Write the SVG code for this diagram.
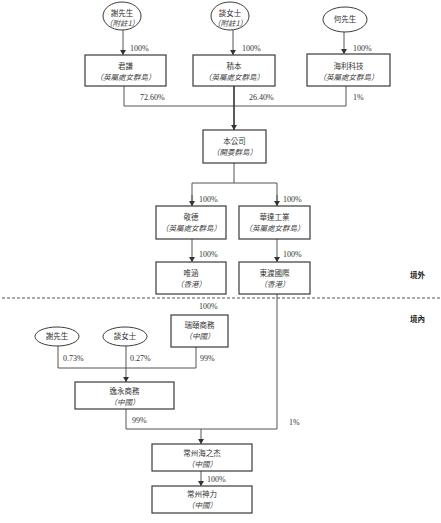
<svg xmlns="http://www.w3.org/2000/svg" width="441" height="523" viewBox="0 0 441 523">
<defs>
<marker id="arr" markerUnits="userSpaceOnUse" markerWidth="6" markerHeight="6" refX="5" refY="3" orient="auto">
<path d="M0,0 L5,3 L0,6 Z" fill="#333"/>
</marker>
<style>
.box{fill:#fff;stroke:#3a3a3a;stroke-width:1.2}
.ell{fill:#fff;stroke:#3a3a3a;stroke-width:1}
.ln{fill:none;stroke:#555;stroke-width:1}
.lnb{fill:none;stroke:#333;stroke-width:1.6}
.cn{font-family:"Noto Sans CJK TC","Noto Sans CJK SC",sans-serif;font-size:7.5px;fill:#333;text-anchor:middle}
.it{font-family:"Noto Sans CJK TC","Noto Sans CJK SC",sans-serif;font-size:7.5px;fill:#444;font-style:italic;text-anchor:middle}
.pc{font-family:"Liberation Serif",serif;font-size:8px;fill:#333}
.bd{font-family:"Noto Sans CJK TC","Noto Sans CJK SC",sans-serif;font-size:7.5px;fill:#222;font-weight:bold}
.dash{stroke:#555;stroke-width:1;stroke-dasharray:3,2}
</style>
</defs>
<rect width="441" height="523" fill="#fff"/>

<g id="connectors">
<line class="ln" x1="123" y1="30" x2="123" y2="55" marker-end="url(#arr)"/>
<line class="ln" x1="233" y1="30" x2="233" y2="55" marker-end="url(#arr)"/>
<line class="ln" x1="344" y1="32" x2="344" y2="54" marker-end="url(#arr)"/>
<polyline class="ln" points="124,86 124,106 346,106 346,86"/>
<line class="lnb" x1="234" y1="86" x2="234" y2="130" marker-end="url(#arr)"/>
<line class="ln" x1="234" y1="163" x2="234" y2="183"/>
<polyline class="ln" points="192,206 192,183 277,183 277,206" />
<line class="ln" x1="192" y1="195" x2="192" y2="206" marker-end="url(#arr)"/>
<line class="ln" x1="277" y1="195" x2="277" y2="206" marker-end="url(#arr)"/>
<line class="ln" x1="192" y1="239" x2="192" y2="262" marker-end="url(#arr)"/>
<line class="ln" x1="277" y1="239" x2="277" y2="262" marker-end="url(#arr)"/>
<line class="dash" x1="2" y1="298" x2="441" y2="298"/>
<polyline class="ln" points="277,294 277,429 126,429 126,409"/>
<polyline class="ln" points="58,346 58,368 196,368 196,347"/>
<line class="ln" x1="126" y1="346" x2="126" y2="382" marker-end="url(#arr)"/>
<line class="ln" x1="201" y1="429" x2="201" y2="444" marker-end="url(#arr)"/>
<line class="ln" x1="201" y1="471" x2="201" y2="486" marker-end="url(#arr)"/>
</g>

<g id="labels">
<text class="pc" x="130" y="51">100%</text>
<text class="pc" x="242" y="51">100%</text>
<text class="pc" x="353" y="51">100%</text>
<text class="pc" x="140" y="100">72.60%</text>
<text class="pc" x="249" y="100">26.40%</text>
<text class="pc" x="353" y="100">1%</text>
<text class="pc" x="199" y="202">100%</text>
<text class="pc" x="283" y="202">100%</text>
<text class="pc" x="199" y="257">100%</text>
<text class="pc" x="283" y="257">100%</text>
<text class="bd" x="410" y="278">境外</text>
<text class="bd" x="410" y="322">境內</text>
<text class="pc" x="199" y="309">100%</text>
<text class="pc" x="63" y="361">0.73%</text>
<text class="pc" x="130" y="361">0.27%</text>
<text class="pc" x="200" y="361">99%</text>
<text class="pc" x="132" y="423">99%</text>
<text class="pc" x="289" y="425">1%</text>
<text class="pc" x="207" y="482">100%</text>
</g>

<g id="n-xie1">
<ellipse class="ell" cx="122" cy="16" rx="19" ry="14"/>
<text class="cn" x="122" y="15.5">謝先生</text>
<text class="it" x="122" y="26">（附註1）</text>
</g>
<g id="n-tan1">
<ellipse class="ell" cx="230" cy="16" rx="19" ry="14"/>
<text class="cn" x="230" y="15.5">談女士</text>
<text class="it" x="230" y="26">（附註1）</text>
</g>
<g id="n-he">
<ellipse class="ell" cx="345" cy="19.5" rx="22" ry="12.5"/>
<text class="cn" x="345" y="22">何先生</text>
</g>

<g id="n-junqian">
<rect class="box" x="85" y="55" width="81" height="31"/>
<text class="cn" x="125.5" y="69">君謙</text>
<text class="it" x="125.5" y="79.5">（英屬處女群島）</text>
</g>
<g id="n-jiben">
<rect class="box" x="193" y="55" width="82" height="31"/>
<text class="cn" x="234" y="69">積本</text>
<text class="it" x="234" y="79.5">（英屬處女群島）</text>
</g>
<g id="n-haili">
<rect class="box" x="307" y="54" width="83" height="32"/>
<text class="cn" x="348.5" y="69">海利科技</text>
<text class="it" x="348.5" y="79.5">（英屬處女群島）</text>
</g>

<g id="n-company">
<rect class="box" x="203" y="130" width="63" height="33"/>
<text class="cn" x="234.5" y="144">本公司</text>
<text class="it" x="234.5" y="155">（開曼群島）</text>
</g>

<g id="n-jingde">
<rect class="box" x="156" y="206" width="70" height="33"/>
<text class="cn" x="191" y="220">敬德</text>
<text class="it" x="191" y="231">（英屬處女群島）</text>
</g>
<g id="n-huada">
<rect class="box" x="239" y="206" width="71" height="33"/>
<text class="cn" x="274.5" y="220">華達工業</text>
<text class="it" x="274.5" y="231">（英屬處女群島）</text>
</g>
<g id="n-weihan">
<rect class="box" x="156" y="262" width="70" height="32"/>
<text class="cn" x="191" y="276">唯涵</text>
<text class="it" x="191" y="287">（香港）</text>
</g>
<g id="n-dongdu">
<rect class="box" x="239" y="262" width="71" height="32"/>
<text class="cn" x="274.5" y="276">東渡國際</text>
<text class="it" x="274.5" y="287">（香港）</text>
</g>

<g id="n-ruiyi">
<rect class="box" x="171" y="315" width="57" height="32"/>
<text class="cn" x="199.5" y="328">瑞頤商務</text>
<text class="it" x="199.5" y="339">（中國）</text>
</g>
<g id="n-xie2">
<ellipse class="ell" cx="57" cy="336.5" rx="22" ry="9.5"/>
<text class="cn" x="57" y="339.3">謝先生</text>
</g>
<g id="n-tan2">
<ellipse class="ell" cx="125" cy="336.5" rx="22" ry="9.5"/>
<text class="cn" x="125" y="339.3">談女士</text>
</g>
<g id="n-yiyong">
<rect class="box" x="75" y="382" width="99" height="27"/>
<text class="cn" x="124.5" y="394">逸永商務</text>
<text class="it" x="124.5" y="405">（中國）</text>
</g>
<g id="n-haizhijie">
<rect class="box" x="152" y="444" width="100" height="27"/>
<text class="cn" x="202" y="456">常州海之杰</text>
<text class="it" x="202" y="466.5">（中國）</text>
</g>
<g id="n-shenli">
<rect class="box" x="152" y="486" width="100" height="27"/>
<text class="cn" x="202" y="496.5">常州神力</text>
<text class="it" x="202" y="507.5">（中國）</text>
</g>
</svg>
